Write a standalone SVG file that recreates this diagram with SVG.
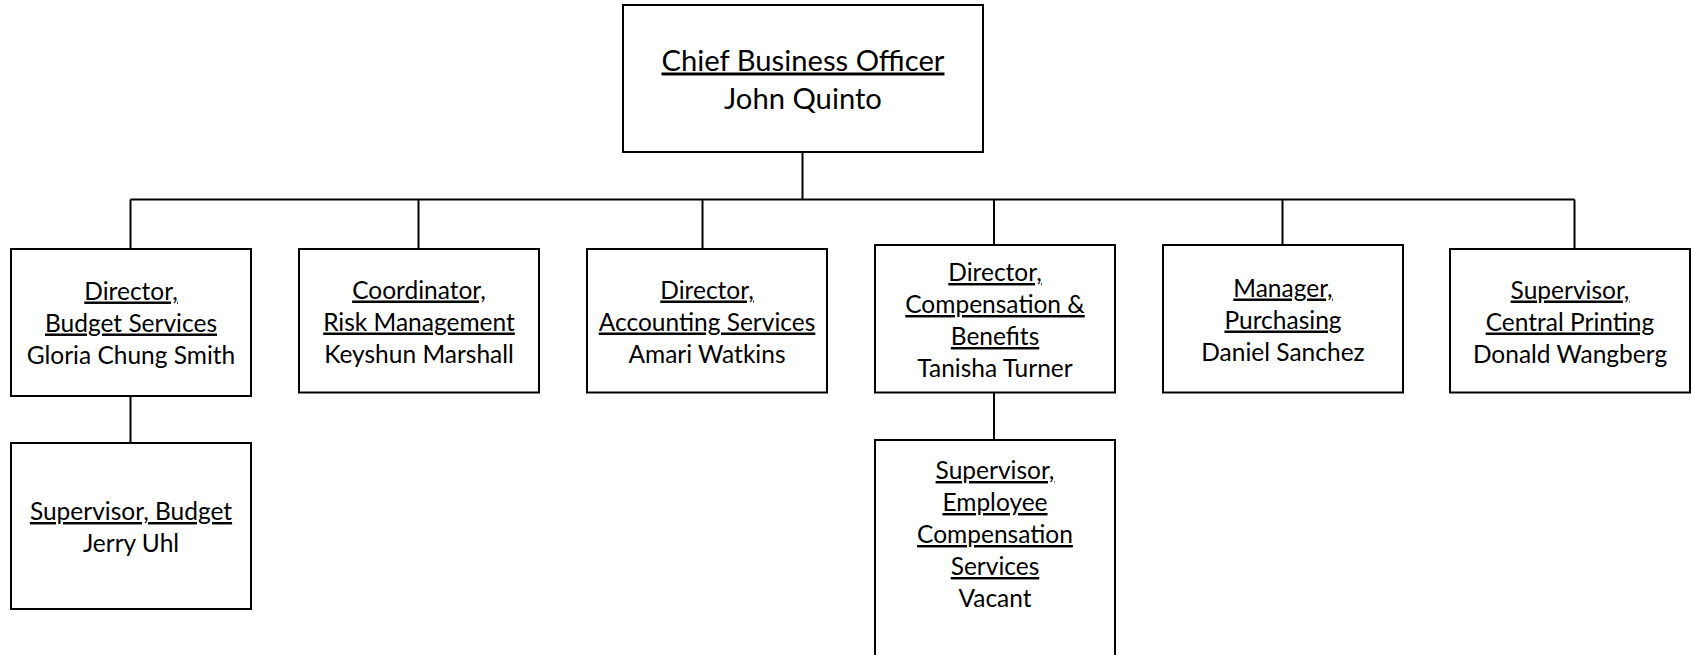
<svg xmlns="http://www.w3.org/2000/svg" width="1691" height="655" viewBox="0 0 1691 655">
<style>
.box{fill:#fff;stroke:#000;stroke-width:2}
.ln{stroke:#000;stroke-width:2;fill:none}
text{font-family:Lato,"Liberation Sans",sans-serif;font-size:24.5px;fill:#000;text-anchor:middle}
.big{font-size:29.2px}
.u{text-decoration:underline}
</style>
<rect width="1691" height="655" fill="#fff"/>
<g id="connectors">
<path class="ln" d="M802.5 152V199.5M130.5 199.5H1574.5M130.5 199.5V249M418.5 199.5V249M702.5 199.5V249M994 199.5V245M1282.5 199.5V245M1574.5 199.5V249M130.5 396V443M994 392.5V440"/>
</g>
<g id="cbo">
<rect class="box" x="623" y="5" width="360" height="147"/>
<text class="big u" x="803" y="70.5">Chief Business Officer</text>
<text class="big" x="803" y="108.5">John Quinto</text>
</g>
<g id="budget">
<rect class="box" x="11" y="249" width="240" height="147"/>
<text class="u" x="131" y="299.5">Director,</text>
<text class="u" x="131" y="331.5">Budget Services</text>
<text x="131" y="363.5">Gloria Chung Smith</text>
</g>
<g id="risk">
<rect class="box" x="299" y="249" width="240" height="143.5"/>
<text class="u" x="419" y="298.5">Coordinator,</text>
<text class="u" x="419" y="330.5">Risk Management</text>
<text x="419" y="362.5">Keyshun Marshall</text>
</g>
<g id="accounting">
<rect class="box" x="587" y="249" width="240" height="143.5"/>
<text class="u" x="707" y="298.5">Director,</text>
<text class="u" x="707" y="330.5">Accounting Services</text>
<text x="707" y="362.5">Amari Watkins</text>
</g>
<g id="compensation">
<rect class="box" x="875" y="245" width="240" height="147.5"/>
<text class="u" x="995" y="281">Director,</text>
<text class="u" x="995" y="313">Compensation &amp;</text>
<text class="u" x="995" y="345">Benefits</text>
<text x="995" y="377">Tanisha Turner</text>
</g>
<g id="purchasing">
<rect class="box" x="1163" y="245" width="240" height="147.5"/>
<text class="u" x="1283" y="296.5">Manager,</text>
<text class="u" x="1283" y="328.5">Purchasing</text>
<text x="1283" y="360.5">Daniel Sanchez</text>
</g>
<g id="printing">
<rect class="box" x="1450" y="249" width="240" height="143.5"/>
<text class="u" x="1570" y="298.5">Supervisor,</text>
<text class="u" x="1570" y="330.5">Central Printing</text>
<text x="1570" y="362.5">Donald Wangberg</text>
</g>
<g id="supbudget">
<rect class="box" x="11" y="443" width="240" height="166"/>
<text class="u" x="131" y="520">Supervisor, Budget</text>
<text x="131" y="552">Jerry Uhl</text>
</g>
<g id="supemployee">
<rect class="box" x="875" y="440" width="240" height="230"/>
<text class="u" x="995" y="479">Supervisor,</text>
<text class="u" x="995" y="511">Employee</text>
<text class="u" x="995" y="543">Compensation</text>
<text class="u" x="995" y="575">Services</text>
<text x="995" y="607">Vacant</text>
</g>
</svg>
